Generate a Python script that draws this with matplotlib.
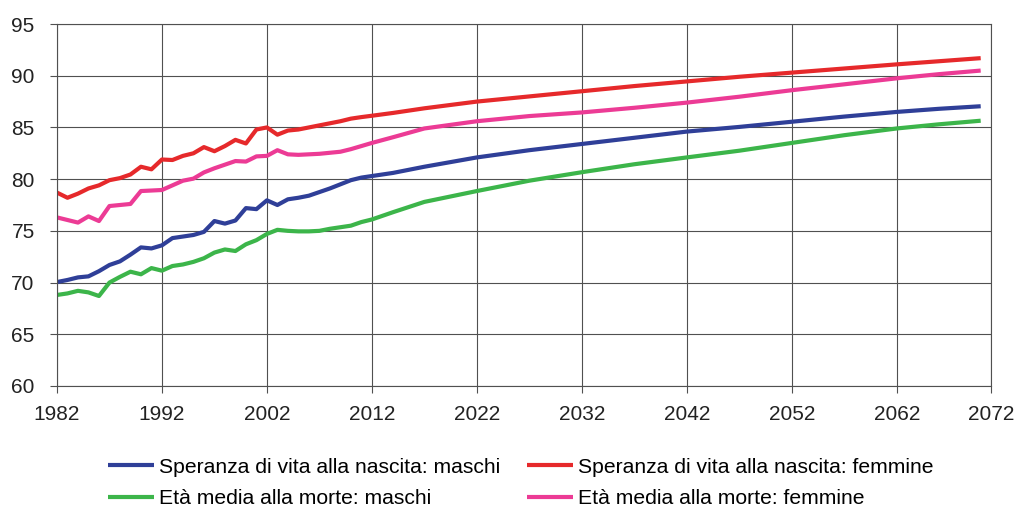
import numpy as np
import matplotlib
matplotlib.use("Agg")
import matplotlib.pyplot as plt

plt.rcParams['font.family'] = ['Liberation Sans', 'DejaVu Sans']

# Anni: serie storica annuale, poi proiezioni
years = list(range(1982, 2013)) + [2014, 2017, 2022, 2027, 2032, 2037, 2042,
                                   2047, 2052, 2057, 2062, 2066, 2070]

# Speranza di vita alla nascita: maschi
sv_maschi = [70.05, 70.25, 70.5, 70.6, 71.1, 71.7, 72.05, 72.7, 73.4, 73.3,
             73.6, 74.3, 74.45, 74.6, 74.9, 75.95, 75.7, 76.0, 77.2, 77.1,
             77.95, 77.5, 78.05, 78.2, 78.4, 78.75, 79.1, 79.5, 79.9, 80.15,
             80.3,
             80.6, 81.2, 82.1, 82.8, 83.4, 84.0, 84.6, 85.05, 85.55, 86.05,
             86.5, 86.8, 87.05]

# Speranza di vita alla nascita: femmine
sv_femmine = [78.7, 78.2, 78.6, 79.1, 79.4, 79.9, 80.1, 80.45, 81.2, 80.95,
              81.9, 81.85, 82.25, 82.5, 83.1, 82.7, 83.2, 83.8, 83.45, 84.8,
              85.0, 84.3, 84.7, 84.8, 85.0, 85.2, 85.4, 85.6, 85.85, 86.0,
              86.13,
              86.4, 86.85, 87.5, 88.0, 88.5, 89.0, 89.45, 89.9, 90.3, 90.7,
              91.1, 91.4, 91.7]

# Età media alla morte: maschi
em_maschi = [68.8, 68.95, 69.2, 69.05, 68.7, 70.0, 70.55, 71.05, 70.8, 71.4,
             71.15, 71.6, 71.75, 72.0, 72.35, 72.9, 73.2, 73.05, 73.7, 74.1,
             74.7, 75.1, 75.0, 74.95, 74.95, 75.0, 75.2, 75.35, 75.5, 75.85,
             76.1,
             76.8, 77.8, 78.85, 79.85, 80.67, 81.44, 82.1, 82.75, 83.5, 84.25,
             84.9, 85.3, 85.65]

# Età media alla morte: femmine
em_femmine = [76.3, 76.05, 75.8, 76.4, 75.95, 77.4, 77.5, 77.6, 78.85, 78.9,
              78.95, 79.4, 79.85, 80.05, 80.65, 81.05, 81.4, 81.75, 81.7, 82.2,
              82.25, 82.8, 82.4, 82.35, 82.4, 82.45, 82.55, 82.65, 82.9, 83.2,
              83.5,
              84.05, 84.9, 85.6, 86.1, 86.45, 86.9, 87.4, 87.97, 88.6, 89.17,
              89.75, 90.15, 90.5]

labels = ["Speranza di vita alla nascita: maschi",
          "Età media alla morte: maschi",
          "Speranza di vita alla nascita: femmine",
          "Età media alla morte: femmine"]
x_tick_labels = ["1982", "1992", "2002", "2012", "2022", "2032", "2042",
                 "2052", "2062", "2072"]
y_ticks = [60, 65, 70, 75, 80, 85, 90, 95]

fig = plt.figure(figsize=(10.21, 5.09), dpi=100)
ax = fig.add_axes([0.0558, 0.2417, 0.915, 0.7111])

series = [sv_maschi, em_maschi, sv_femmine, em_femmine]
colors = ["#2f3f98", "#3cb54a", "#e6292b", "#ec3b95"]
for vals, col, lab in zip(series, colors, labels):
    ax.plot(years, vals, color=col, lw=3.0, label=lab, solid_capstyle='butt')

# asse x: l'ultima etichetta sta sul bordo destro del grafico
x_end = years[-1] + 1
x_pos = list(range(1982, 2063, 10)) + [x_end]
ax.set_xlim(1982, x_end)
ax.set_ylim(60, 95)
ax.set_xticks(x_pos)
ax.set_xticklabels(x_tick_labels)
ax.set_yticks(y_ticks)

grid_col = "#505050"
for y in y_ticks:
    ax.axhline(y, color=grid_col, lw=0.8, zorder=0)
for x in x_pos:
    ax.axvline(x, color=grid_col, lw=0.8, zorder=0)

for s in ax.spines.values():
    s.set_color(grid_col)
    s.set_linewidth(0.8)

ax.tick_params(axis='both', direction='out', length=5, width=0.8,
               color=grid_col, labelsize=15, labelcolor="#222222")
ax.tick_params(axis='y', pad=11)
ax.tick_params(axis='x', pad=9)

ax.legend(loc='center', bbox_to_anchor=(0.510, 0.051),
          bbox_transform=fig.transFigure, ncol=2, frameon=False,
          fontsize=15.2, handlelength=2.18, handletextpad=0.24,
          columnspacing=1.3, labelspacing=0.6)

fig.savefig("out.png", dpi=100)
